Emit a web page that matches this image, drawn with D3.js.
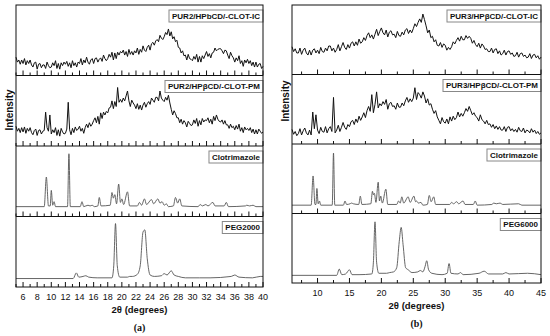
<!DOCTYPE html>
<html lang="en">
<head>
<meta charset="utf-8">
<title>XRD patterns</title>
<script src="https://cdn.jsdelivr.net/npm/d3@7"></script>
<style>
  body { margin: 0; background: #fff; }
  text { font-family: Arial, "Liberation Sans", sans-serif; fill: #111; }
</style>
</head>
<body>
<svg id="chart" width="550" height="336"></svg>
<script>
// Tick labels
var ticksA = [6, 8, 10, 12, 14, 16, 18, 20, 22, 24, 26, 28, 30, 32, 34, 36, 38, 40];
var ticksB = [10, 15, 20, 25, 30, 35, 40, 45];

// Series names (top to bottom)
var namesA = ["PUR2/HPbCD/-CLOT-IC", "PUR2/HP\u03b2CD/-CLOT-PM", "Clotrimazole", "PEG2000"];
var namesB = ["PUR3/HP\u03b2CD/-CLOT-IC", "PUR3/HP\u03b2CD/-CLOT-PM", "Clotrimazole", "PEG6000"];

// Noisy scans, relative intensity
// (a) every 0.2 deg from 5, one row per degree
var icA = [
  26,19,22,16,22, 17,24,15,21,17, 22,15,12,18,19, 9,16,17,11,15, 15,10,19,14,11,
  12,18,14,21,10, 17,9,18,14,19, 16,20,13,18,11, 21,14,18,12,19, 17,24,15,22,18,
  26,19,16,22,24, 17,24,25,19,23, 25,20,29,24,21, 24,30,26,33,22, 32,24,33,29,34,
  32,36,29,34,27, 37,30,34,29,35, 32,39,30,37,33, 42,36,34,40,43, 36,45,47,43,49,
  51,48,57,53,51, 55,61,58,66,56, 62,52,55,48,50, 40,39,32,35,28, 29,22,30,24,23,
  21,27,23,30,19, 27,19,28,24,29, 34,27,31,25,32, 33,39,35,37,38, 38,35,31,36,35,
  29,24,33,28,25, 19,25,21,28,17, 21,13,22,18,23, 17,21,14,19,12, 19,12,16,17,10,
  13
];
var pmA = [
  28,21,25,19,26, 20,27,18,25,21, 26,19,16,22,24, 15,22,23,17,21, 22,48,26,21,44,
  17,23,19,26,15, 23,14,25,20,17, 18,24,62,23,16, 25,19,27,22,24, 28,21,25,18,26,
  31,26,33,28,31, 36,40,33,42,31, 47,39,48,44,49, 47,54,55,64,53, 63,56,83,62,66,
  62,68,64,71,78, 64,56,65,61,58, 53,60,52,58,51, 58,62,55,60,63, 59,68,65,62,69,
  69,64,78,68,65, 63,69,65,72,61, 52,44,50,46,40, 40,33,38,31,36, 33,27,35,32,29,
  30,37,32,39,28, 36,30,39,34,37, 36,40,33,38,31, 42,36,44,38,35, 34,37,31,36,30,
  30,25,31,26,28, 23,29,24,31,21, 26,19,27,23,25, 22,26,19,24,17, 23,17,24,21,18,
  20
];
// (b) every 0.25 deg from 6, one row per degree
var icB = [
  40,33,37,31, 31,38,29,35, 38,31,28,35, 28,35,37,31, 35,30,39,33, 32,38,34,41,
  41,34,38,32, 36,43,34,40, 46,39,36,43, 38,45,47,41, 47,42,51,45, 47,53,49,56,
  60,53,57,51, 58,65,56,62, 67,60,57,64, 54,61,63,57, 58,53,62,56, 55,61,57,64,
  66,59,64,60, 66,73,69,75, 80,75,87,79, 70,60,64,53, 55,47,50,42, 41,46,39,44,
  42,35,39,36, 40,47,44,49, 53,48,55,50, 50,56,52,55, 52,45,49,43, 40,45,38,44,
  41,36,37,33, 33,38,31,36, 37,30,34,28, 30,35,28,33, 34,29,31,26, 27,32,25,30,
  31,26,28,24, 25,30,23,28, 29,24,27,22,
  25
];
var pmB = [
  21,14,18,12, 15,22,13,19, 23,16,13,20, 13,46,22,42, 20,15,24,18, 17,25,16,22,
  25,18,67,16, 20,27,18,24, 31,24,21,28, 25,32,34,28, 36,31,40,34, 39,45,38,48,
  54,47,71,45, 57,75,52,58, 55,61,57,64, 50,58,60,54, 55,50,59,53, 53,59,55,62,
  67,60,65,61, 66,81,64,74, 71,66,75,69, 59,65,56,58, 50,44,48,39, 34,29,38,32,
  30,36,29,39, 33,40,35,38, 46,39,44,40, 45,51,47,54, 48,42,45,40, 38,33,42,35,
  33,29,34,28, 29,24,28,22, 26,21,25,20, 20,25,18,24, 25,19,22,18, 21,17,24,19,
  18,23,16,20, 19,16,22,17, 20,15,18,14,
  16
];

// Crystalline patterns as [2theta, intensity]
var clotA = [
  [5,14],[9.0,14],[9.3,56],[9.6,15],[9.85,15],[10.0,37],[10.2,16],[10.4,21],[10.6,14],
  [12.3,14],[12.5,89],[12.7,14],
  [14.1,14],[14.35,21],[14.6,14],[15.2,16],[15.5,15],[15.8,16],[16.1,14],
  [16.6,15],[16.8,27],[17.05,15],
  [18.35,16],[18.6,34],[18.8,26],[19.0,31],[19.25,18],[19.55,46],[19.8,20],[20.0,25],[20.25,17],[20.8,35],[21.1,15],
  [22.2,15],[22.5,20],[22.8,16],[23.2,25],[23.5,17],[24.2,24],[24.5,18],[25.1,25],[25.4,19],[25.7,21],[26.0,16],[26.3,18],[26.6,14],
  [27.3,15],[27.6,27],[27.9,19],[28.2,25],[28.5,15],
  [30.8,14],[31.1,17],[31.4,15],[31.9,17],[32.2,15],[32.9,20],[33.2,15],[34.5,15],[34.8,20],[35.1,14],
  [37.5,15],[37.7,16],[38.1,15],[38.6,16],[39,14],[40,14]
];
var pegA = [
  [5,12],[13.1,12],[13.55,20],[13.9,14],[14.5,15],[14.9,16],[15.3,14],[16.5,13],[18.6,13],
  [18.85,30],[19.1,90],[19.35,30],[19.7,14],[20.8,14],[21.1,15],[21.5,15],[22.2,18],[22.6,30],
  [23.0,78],[23.25,81],[23.6,40],[24.0,17],[24.6,15],[25.6,16],[26.0,19],[26.4,17],[27.0,23],
  [27.4,17],[28.0,15],[29,13],[31,13],[32.5,13],[35.5,15],[36.0,17],[36.6,14],[38.5,13],[39.6,15],[40,15]
];
var clotB = [
  [6,12],[9.0,12],[9.3,54],[9.6,13],[9.75,13],[9.9,36],[10.1,14],[10.3,18],[10.5,12],
  [12.3,12],[12.5,87],[12.7,12],
  [14.05,12],[14.3,18],[14.55,13],[15.1,14],[15.3,15],[15.6,14],
  [16.45,13],[16.7,25],[16.95,13],
  [18.35,14],[18.6,32],[18.75,27],[18.9,29],[19.15,16],[19.5,45],[19.7,18],[19.9,25],[20.15,15],[20.7,35],[21.0,13],
  [22.4,13],[22.7,18],[22.95,15],[23.2,24],[23.5,15],[24.2,24],[24.5,16],[25.1,25],[25.35,17],[25.5,18],[25.8,15],[26.2,16],[26.5,12],
  [27.2,13],[27.5,26],[27.8,17],[28.2,24],[28.5,13],
  [30.7,13],[31.0,16],[31.3,14],[31.8,17],[32.1,14],[32.8,18],[33.1,13],[34.4,13],[34.7,18],[35.0,12],
  [37.3,13],[37.6,15],[38.0,14],[38.6,15],[39,13],[41.5,14],[42,12],[45,12]
];
var pegB = [
  [6,11],[13.0,11],[13.4,20],[13.8,12],[14.4,13],[15.0,19],[15.4,12],[16.5,12],[18.5,13],
  [18.75,30],[19.0,88],[19.25,30],[19.6,14],[20.8,14],[21.3,15],[21.9,16],[22.4,22],[22.8,60],
  [23.1,80],[23.4,55],[23.8,22],[24.2,19],[24.8,15],[25.7,16],[26.1,18],[26.5,16],[26.85,24],
  [27.1,32],[27.4,19],[27.9,14],[29.5,12],[30.3,14],[30.6,28],[30.9,14],[32.0,13],[32.4,15],
  [32.8,12],[35.3,14],[36.1,17],[36.8,13],[39.0,13],[39.5,15],[40,13],[42.9,14],[45,12]
];

var svg = d3.select("#chart");

// turn an evenly spaced scan into [x, y] pairs
function scan(vals, start, step) {
  return vals.map(function(v, i) { return [start + i * step, v]; });
}

function drawPanel(p) {
  var x = d3.scaleLinear().domain(p.domain).range([p.left, p.right]);
  var h = (p.bottom - p.top) / 4;

  p.series.forEach(function(s, k) {
    var top = p.top + k * h, bot = top + h;
    var y = d3.scaleLinear().domain([0, 100]).range([bot, top]);
    var line = d3.line()
      .x(function(d) { return x(d[0]); })
      .y(function(d) { return y(d[1]); });
    if (!s.noisy) line.curve(d3.curveMonotoneX);

    svg.append("path")
      .datum(s.data)
      .attr("d", line)
      .attr("fill", "none")
      .attr("stroke", s.noisy ? "#111" : "#555")
      .attr("stroke-width", s.noisy ? 1.0 : 0.9)
      .attr("stroke-linejoin", "round");

    // ticks pointing up from the bottom of every strip
    svg.append("g").selectAll("line")
      .data(p.minor)
      .enter().append("line")
      .attr("x1", function(d) { return x(d); })
      .attr("x2", function(d) { return x(d); })
      .attr("y1", bot)
      .attr("y2", function(d) { return bot - (p.major.indexOf(d) >= 0 ? 5 : 3); })
      .attr("stroke", "#111")
      .attr("stroke-width", 1);

    // label box
    var lab = svg.append("g");
    var t = lab.append("text")
      .attr("x", p.right - 3)
      .attr("y", top + 13.5)
      .attr("text-anchor", "end")
      .style("font-size", "8px")
      .style("font-weight", "bold")
      .text(s.name);
    var w = t.node().getComputedTextLength();
    lab.insert("rect", "text")
      .attr("x", p.right - w - 6)
      .attr("y", top + 5)
      .attr("width", w + 6)
      .attr("height", 12)
      .attr("fill", "#fff")
      .attr("stroke", "#888")
      .attr("stroke-width", 1);

    if (k > 0) {
      svg.append("line")
        .attr("x1", p.left).attr("x2", p.right)
        .attr("y1", top).attr("y2", top)
        .attr("stroke", "#111").attr("stroke-width", 1);
    }
  });

  svg.append("rect")
    .attr("x", p.left).attr("y", p.top)
    .attr("width", p.right - p.left).attr("height", p.bottom - p.top)
    .attr("fill", "none").attr("stroke", "#111").attr("stroke-width", 1);

  svg.append("g").selectAll("text")
    .data(p.major.filter(function(d) { return d >= p.domain[0]; }))
    .enter().append("text")
    .attr("x", function(d) { return x(d); })
    .attr("y", p.bottom + 13)
    .attr("text-anchor", "middle")
    .style("font-size", "9px")
    .text(function(d) { return d; });

  var mid = (p.left + p.right) / 2;
  svg.append("text")
    .attr("x", mid).attr("y", p.bottom + 26)
    .attr("text-anchor", "middle")
    .style("font-size", "9.5px")
    .style("font-weight", "bold")
    .text("2\u03b8 (degrees)");

  svg.append("text")
    .attr("x", mid).attr("y", p.bottom + 44)
    .attr("text-anchor", "middle")
    .style("font-family", "'Liberation Serif', 'DejaVu Serif', serif")
    .style("font-size", "10px")
    .style("font-weight", "bold")
    .text(p.tag);

  svg.append("text")
    .attr("transform", "translate(" + p.ylabX + "," + p.ylabY + ") rotate(-90)")
    .attr("text-anchor", "middle")
    .style("font-size", "10px")
    .style("font-weight", "bold")
    .text("Intensity");
}

drawPanel({
  left: 16, right: 263, top: 5, bottom: 287,
  domain: [5, 40],
  major: ticksA,
  minor: d3.range(5, 40.5, 1),
  tag: "(a)", ylabX: 13, ylabY: 110,
  series: [
    { name: namesA[0], data: scan(icA, 5, 0.2), noisy: true },
    { name: namesA[1], data: scan(pmA, 5, 0.2), noisy: true },
    { name: namesA[2], data: clotA },
    { name: namesA[3], data: pegA }
  ]
});

drawPanel({
  left: 292, right: 541, top: 5, bottom: 283,
  domain: [6, 45],
  major: ticksB,
  minor: d3.range(7.5, 45.5, 2.5),
  tag: "(b)", ylabX: 289, ylabY: 101,
  series: [
    { name: namesB[0], data: scan(icB, 6, 0.25), noisy: true },
    { name: namesB[1], data: scan(pmB, 6, 0.25), noisy: true },
    { name: namesB[2], data: clotB },
    { name: namesB[3], data: pegB }
  ]
});
</script>
</body>
</html>
